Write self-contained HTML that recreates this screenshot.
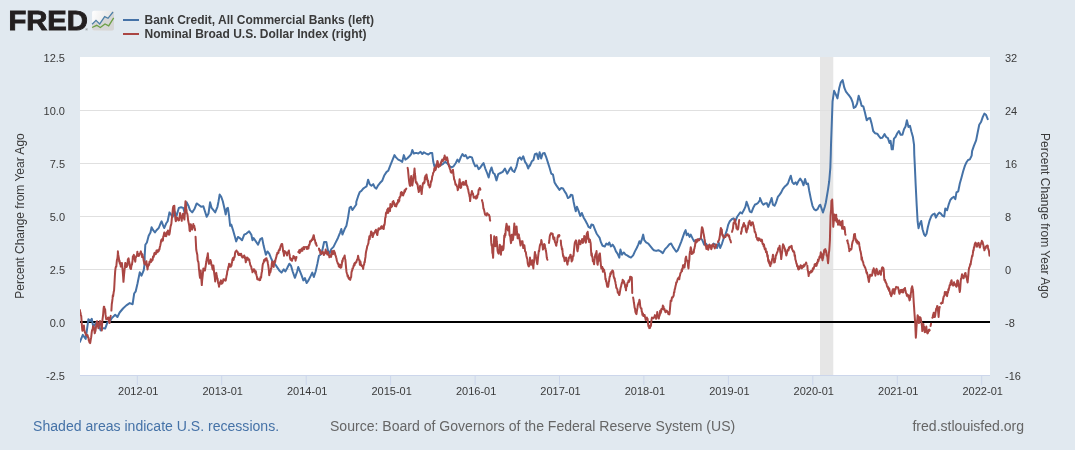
<!DOCTYPE html>
<html><head><meta charset="utf-8"><title>FRED Graph</title>
<style>html,body{margin:0;padding:0;background:#e1e9f0;}body{width:1075px;height:450px;position:relative;overflow:hidden;}</style></head>
<body>
<svg width="1075" height="450" viewBox="0 0 1075 450" style="position:absolute;left:0;top:0">
<defs><linearGradient id="ig" x1="0" y1="0" x2="1" y2="0.3"><stop offset="0" stop-color="#ffffff"/><stop offset="1" stop-color="#e2e2e2"/></linearGradient><clipPath id="cp"><rect x="80" y="57" width="910" height="318"/></clipPath></defs>
<rect x="0" y="0" width="1075" height="450" fill="#e1e9f0"/>
<rect x="80" y="57" width="910" height="318" fill="#ffffff"/>
<rect x="820" y="57" width="13.3" height="318" fill="#e6e6e6"/>
<rect x="80" y="110" width="910" height="1" fill="#e0e0e0"/>
<rect x="80" y="163" width="910" height="1" fill="#e0e0e0"/>
<rect x="80" y="216" width="910" height="1" fill="#e0e0e0"/>
<rect x="80" y="269" width="910" height="1" fill="#e0e0e0"/>
<rect x="80" y="375" width="910" height="1" fill="#ccd6eb"/>
<rect x="136.8" y="375" width="1" height="10" fill="#ccd6eb"/>
<rect x="221.2" y="375" width="1" height="10" fill="#ccd6eb"/>
<rect x="305.7" y="375" width="1" height="10" fill="#ccd6eb"/>
<rect x="390.1" y="375" width="1" height="10" fill="#ccd6eb"/>
<rect x="474.6" y="375" width="1" height="10" fill="#ccd6eb"/>
<rect x="559.0" y="375" width="1" height="10" fill="#ccd6eb"/>
<rect x="643.4" y="375" width="1" height="10" fill="#ccd6eb"/>
<rect x="727.9" y="375" width="1" height="10" fill="#ccd6eb"/>
<rect x="812.3" y="375" width="1" height="10" fill="#ccd6eb"/>
<rect x="896.8" y="375" width="1" height="10" fill="#ccd6eb"/>
<rect x="981.2" y="375" width="1" height="10" fill="#ccd6eb"/>
<rect x="80" y="321" width="910" height="2" fill="#000000"/>
<g clip-path="url(#cp)" fill="none" stroke-linejoin="round" stroke-linecap="round"><path d="M79.91 341.98 L82.81 334.84 L85.72 338.86 L88.4 319.21 L90.18 321 L91.74 318.76 L93.31 327.02 L96.21 322.56 L99.11 325.91 L100.67 330.37 L102.91 328.14 L105.14 328.59 L107.37 322.56 L109.6 321.89 L111.84 318.09 L115.19 314.74 L117.42 316.98 L119.65 312.51 L123 308.49 L126.35 305.37 L129.7 303.13 L132.6 304.25 L134.16 293.53 L135.73 291.3 L137.51 283.49 L139.74 272.33 L141.53 275.67 L143.76 270.09 L144.66 263.4 L144.66 255.91 L145.33 244.74 L146.89 242.51 L148.67 235.81 L150.46 232.47 L151.58 227.33 L153.14 230.23 L154.93 232.47 L156.49 230.23 L158.72 228 L160.51 223.53 L161.62 221.3 L163.19 225.77 L164.3 228 L166.09 223.53 L167.65 221.3 L169.44 212.37 L171 214.6 L172.79 216.84 L174.35 211.26 L176.58 215.72 L178.81 207.91 L181.05 207.24 L183.28 207.91 L184.84 213.49 L186.63 202.33 L188.41 205.67 L189.98 210.14 L192.21 212.37 L194.44 209.02 L196.67 203.44 L198.91 205 L201.14 206.79 L203.37 206.34 L204.93 211.26 L206.72 216.84 L208.51 213.49 L210.07 202.33 L211.63 207.91 L213.42 210.14 L215.2 212.37 L217.44 206.79 L218.55 201.21 L219.67 194.51 L221.23 196.74 L222.8 201.21 L224.58 209.02 L225.7 214.6 L226.81 208.58 L227.93 207.91 L229.05 215.72 L230.16 225.77 L231.28 224.65 L233.07 230.23 L234.63 235.81 L236.19 241.4 L237.98 236.93 L239.76 238.05 L242 240.28 L244.23 234.7 L246.46 233.58 L249.14 231.35 L251.37 234.7 L252.49 240.28 L253.6 238.05 L255.84 241.4 L258.07 244.74 L260.3 239.16 L262.09 238.05 L263.65 245.86 L265.88 254.79 L267.45 251.44 L269.23 253.67 L271.02 258.14 L272.58 261.49 L274.81 263.72 L277.05 267.07 L279.28 270.42 L281.51 272.65 L283.74 269.3 L285.31 271.53 L287.09 268.19 L289.33 263.72 L291.11 265.95 L292.67 271.53 L294.91 277.79 L297.14 271.53 L298.26 267.07 L300 271.44 L301.79 275.91 L303.35 280.37 L304.91 278.14 L306.7 283.05 L308.48 280.37 L310.72 275.91 L312.28 272.56 L313.84 277.02 L315.63 271.44 L317.41 263.63 L318.98 255.81 L320.54 254.7 L322.33 250.23 L324.11 241.97 L326.34 241.97 L327.91 250.23 L329.47 253.58 L331.26 249.12 L333.49 246.88 L335.72 242.42 L337.95 237.95 L340.19 232.37 L341.3 229.02 L342.42 234.6 L344.65 229.02 L346.44 225.67 L348 217.86 L349.56 207.81 L350.9 206.7 L352.47 210.05 L354.7 206.7 L356.26 204.47 L356.26 202.02 L358.05 196.44 L359.83 191.98 L361.4 190.86 L363.18 188.63 L364.74 187.51 L366.53 186.4 L368.09 179.7 L369.66 184.16 L371.44 185.73 L373.23 184.16 L374.79 187.51 L376.35 188.63 L378.14 185.28 L379.93 183.05 L382.16 180.81 L384.39 175.23 L386.62 171.88 L388.19 170.77 L390.42 165.19 L392.65 159.6 L394.44 155.14 L396 157.37 L398.23 159.6 L400.47 160.72 L402.25 161.84 L403.81 155.14 L405.38 159.6 L407.16 158.49 L409.4 156.26 L411.18 154.02 L412.3 150 L413.86 153.58 L416.09 152.91 L418.33 153.58 L420.56 151.79 L422.34 154.02 L423.91 152.24 L426.14 153.58 L428.37 154.47 L430.6 152.91 L432.17 152.91 L433.28 161.84 L434.4 166.3 L436.19 165.19 L438.42 166.3 L440.65 165.19 L442.88 164.07 L445.12 161.84 L447.35 163.4 L449.13 165.63 L451.37 167.42 L453.6 166.3 L455.83 162.95 L457.4 159.6 L458.96 161.84 L460.74 157.37 L462.53 154.02 L464.09 156.26 L465.66 155.14 L467.44 158.49 L469.67 156.7 L471.91 157.37 L473.69 162.95 L475.26 166.3 L476.82 165.19 L478.6 169.2 L480.39 167.42 L481.95 165.19 L483.52 162.95 L485.3 168.53 L487.09 173 L488.65 177.47 L490.21 170.77 L491.55 167.42 L493.12 173 L494.68 174.12 L496.47 180.37 L498.25 174.12 L500.48 173 L502.72 171.88 L504.95 168.53 L507.18 173.67 L509.41 169.65 L510.98 167.42 L512.54 170.77 L514.33 171.88 L516.56 166.3 L518.34 158.49 L519.91 157.37 L521.47 159.6 L523.26 156.26 L525.04 161.84 L526.6 164.07 L528.17 168.53 L529.51 165.19 L530 165.72 L531.79 161.26 L533.35 160.14 L534.91 154.11 L536.7 153.44 L538.26 159.02 L539.6 152.33 L541.16 158.58 L542.73 153.44 L544.51 153 L546.07 156.79 L547.86 162.37 L549.65 167.95 L551.21 173.53 L553 174.65 L554.56 182.47 L556.34 185.37 L557.91 187.6 L559.47 189.83 L561.26 188.05 L563.04 188.49 L564.6 191.4 L566.17 193.63 L567.95 198.09 L569.74 196.98 L570.86 194.74 L572.42 195.19 L573.53 201.44 L574.65 206.7 L575.77 211.16 L576.88 206.7 L578.67 211.16 L580.23 216.07 L581.8 212.95 L583.58 217.41 L585.37 220.54 L586.93 223.44 L588.49 226.79 L590.28 227.91 L591.4 224.56 L593.18 225 L594.74 229.02 L596.53 233.49 L598.09 235.72 L599.66 237.95 L601 242.42 L602.56 245.77 L604.79 246.44 L606.35 243.53 L608.14 244.65 L609.26 242.42 L610.82 246.44 L612.6 244.65 L614.39 247.33 L615.95 251.35 L617.52 253.58 L619.3 257.6 L620.42 249.56 L621.98 254.7 L623.77 252.47 L625.55 254.7 L627.12 255.37 L629.35 256.93 L630.91 257.6 L633.14 255.37 L634.93 251.35 L636.72 248 L638.28 244.65 L639.4 241.3 L640.51 243.53 L641.63 240.19 L643.19 234.6 L644.31 240.19 L646.09 242.42 L648.33 243.53 L650.11 245.77 L652.34 248.67 L653.91 250.23 L656.14 250.9 L658.37 250.23 L660.6 251.35 L662.84 253.13 L665.07 249.12 L667.3 246.88 L669.53 244.2 L671.1 243.53 L672.88 246.88 L674.67 249.56 L676.23 251.8 L677.8 250.23 L679.58 245.77 L681.37 241.3 L682.93 236.84 L684.49 232.37 L685.61 230.14 L686.73 235.27 L688.07 233.49 L689.63 236.84 L690.74 234.6 L692.53 238.4 L694.09 241.3 L695.66 240.19 L697.44 240.63 L699.23 239.07 L700.79 238.4 L702.35 240.19 L704.14 244.65 L705.93 243.53 L707.49 245.77 L709.72 247.33 L711.95 245.77 L713.52 243.53 L715.3 244.65 L717.09 248 L718.65 242.42 L720.21 248 L722 243.53 L723.79 237.95 L725.35 234.6 L726.91 230.14 L728.25 224.56 L729.81 221.21 L732.05 218.98 L733.61 218.31 L735.4 221.21 L737.18 216.74 L738.74 214.51 L740.31 212.28 L742.09 213.4 L743.88 210.05 L745.44 206.7 L746.56 201.79 L748.34 206.7 L749.91 211.61 L751.47 212.28 L753.26 207.81 L755.04 204.47 L756.6 204.02 L758.17 202.68 L759.95 200 L760 198 L761.79 202.47 L763.35 204.7 L764.91 203.58 L766.7 203.13 L768.26 206.93 L770.05 202.47 L771.61 198 L772.95 204.7 L774.51 205.81 L776.07 202.47 L777.86 196.88 L779.65 194.65 L781.21 192.42 L782.77 189.07 L784.56 186.84 L786.34 185.27 L787.91 183.49 L789.47 179.02 L790.81 175.67 L792.37 182.37 L793.93 183.93 L795.72 182.37 L796.84 184.6 L798.4 181.26 L800.19 178.58 L801.97 181.26 L803.53 185.27 L805.1 179.02 L806.44 183.93 L808 183.49 L809.12 190.19 L810.9 199.12 L812.47 205.81 L814.03 209.16 L815.81 210.28 L817.6 209.16 L819.16 205.81 L820.28 204.7 L821.4 208.05 L822.96 212.51 L824.74 206.93 L825.86 202.47 L826.98 195.77 L828.09 189.07 L829.21 181.26 L830.33 167.86 L830.77 154.47 L831 144.84 L831.89 120.28 L832.56 101.3 L834.12 90.81 L835.91 94.6 L837.47 98.4 L839.26 87.91 L840.82 82.33 L842.6 80.09 L844.39 87.91 L845.95 91.7 L847.74 93.93 L849.3 95.72 L851.09 98.4 L852.65 102.42 L853.77 108 L855.55 106.88 L857.12 103.53 L858.68 95.72 L860.47 101.3 L861.58 105.77 L863.37 106.44 L864.93 112.47 L866.72 120.28 L868.28 118.49 L870.07 118.05 L871.63 123.63 L873.19 131 L874.98 133.23 L877.21 133.67 L878.77 135.91 L880.56 138.14 L882.34 137.69 L884.58 134.12 L886.14 137.02 L887.93 138.14 L889.49 143.05 L890.6 140.82 L891.72 149.3 L892.84 149.3 L893.95 138.59 L895.52 137.02 L897.3 133.23 L898.87 131 L900.65 134.79 L902.44 134.79 L904 129.21 L905.56 126.53 L906.9 120.28 L908.47 126.98 L910.03 125.86 L911.37 131.44 L912.93 137.02 L914.05 144.84 L914.27 154.47 L914.72 163.4 L915.61 183.49 L916.73 205.81 L917.62 221.44 L918.51 228.14 L919.85 223.67 L921.19 221 L922.53 229.26 L924.09 234.39 L925.21 235.95 L926.55 233.72 L927.89 227.02 L929.67 220.33 L931.46 215.86 L933.02 214.3 L934.59 213.63 L935.93 217.65 L937.49 214.74 L939.27 212.51 L940.84 213.63 L942.62 215.86 L944.19 216.53 L945.3 208.49 L947.09 210.28 L948.65 204.7 L950.21 200.23 L952 198 L953.79 196.88 L955.35 199.12 L956.47 192.42 L958.25 191.3 L959.81 183.49 L961.38 177.91 L963.16 171.21 L964.95 165.63 L966.51 162.28 L968.07 160.05 L969.86 159.38 L971.65 155.58 L972.09 151.09 L973.88 145.95 L976.11 140.37 L977.67 132.56 L979.24 124.74 L981.02 122.07 L982.81 116.93 L984.37 113.58 L985.93 114.7 L987.72 119.16" stroke="#4572a7" stroke-width="2"/><path d="M79.91 310.05 L80.25 312.42 L80.58 313.43 L80.91 315.02 L81.25 316.14 L81.62 321.25 L82 326.91 L82.37 330.75 L82.68 330.63 L82.99 329.25 L83.31 328.72 L83.62 327.86 L83.93 325.52 L84.29 329.58 L84.65 331.05 L85 332.83 L85.36 332.64 L85.72 334.38 L86.03 334.93 L86.34 335.08 L86.66 335.56 L86.97 335.02 L87.28 335.31 L87.59 335.15 L87.9 336.9 L88.22 337.87 L88.53 337.81 L88.84 340.85 L89.18 340.92 L89.51 342.61 L89.84 342.09 L90.18 343.1 L90.49 341.23 L90.8 339.21 L91.12 337.64 L91.43 335.06 L91.74 332.2 L92.05 330.4 L92.37 329.46 L92.68 329.68 L93 326.52 L93.31 326.13 L93.67 327.86 L94.02 327.69 L94.38 330.64 L94.73 333.33 L95.09 331.91 L95.45 330.97 L95.81 328.71 L96.16 325.62 L96.52 324.34 L96.88 321.38 L97.19 321.24 L97.5 324.42 L97.82 325.39 L98.13 326.76 L98.44 328.32 L98.75 326.23 L99.06 324.9 L99.38 322.5 L99.69 323.11 L100 320.89 L100.36 322.6 L100.72 323.43 L101.07 325.26 L101.43 327.22 L101.79 330.42 L102.15 323.19 L102.51 319.46 L102.86 316.75 L103.22 313.59 L103.58 308.57 L103.89 306.79 L104.2 306.68 L104.52 309.71 L104.83 309.17 L105.14 309.27 L105.51 314.14 L105.89 317.22 L106.26 319.35 L106.62 318.99 L106.97 318.71 L107.33 319.31 L107.68 317.98 L108.04 317.45 L108.35 318.59 L108.66 317.8 L108.98 321.48 L109.29 322.3 L109.6 323.04 L109.97 318.55 L110.35 317.52 L110.72 315.86 M111.39 310.59 L111.76 304.26 L112.14 301.78 L112.51 298.92 L112.82 295.26 L113.13 296.33 L113.45 293.81 L113.76 291.62 L114.07 290.48 L114.44 284.07 L114.82 276.9 L115.19 271.12 L115.56 268.01 L115.93 266.74 L116.3 266.57 L116.61 263.2 L116.93 259.93 L117.24 259.11 L117.56 257.12 L117.87 252.95 L117.87 251.32 L118.2 254.39 L118.53 256.33 L118.87 258.15 L119.2 261.63 L119.51 260.56 L119.83 263.74 L120.14 262.58 L120.46 264.13 L120.77 266.52 L121.14 265.85 L121.51 264.49 L121.88 262.91 L122.18 265.7 L122.48 268.69 L122.78 272.05 L123.12 276.4 L123.45 281.83 L123.75 278.75 L124.04 274.88 L124.34 272.22 L124.64 269.06 L124.93 267.39 L125.23 262.89 L125.54 263.11 L125.86 264.05 L126.17 265.27 L126.49 267.01 L126.8 266.77 L127.16 265.63 L127.51 265.15 L127.87 259.4 L128.22 258.91 L128.58 258.36 L128.94 260.51 L129.3 262.37 L129.65 263.78 L130.01 266.77 L130.37 268.44 L130.68 267.05 L130.99 269.04 L131.31 266.5 L131.62 265.01 L131.93 264.75 L132.24 262.63 L132.55 260.76 L132.87 256.35 L133.18 256.36 L133.49 255.7 L133.85 254.85 L134.21 256.96 L134.56 259 L134.92 260.02 L135.28 261.71 L135.64 257.5 L136 257.37 L136.35 256.04 L136.71 255.57 L137.07 254.65 L137.38 251.7 L137.69 255.55 L138.01 253.71 L138.32 256.08 L138.63 254.57 L138.95 255.43 L139.27 255.71 L139.59 253.86 L139.9 253.53 L140.22 253.43 L140.54 252.21 L140.86 251.36 L141.18 253.62 L141.5 253.98 L141.82 253.57 L142.13 257.1 L142.45 254.39 L142.77 257.05 L143.09 256.78 L143.4 258.7 L143.72 260.78 L144.03 261.91 L144.35 263.85 L144.66 263.47 L145.02 263.03 L145.37 264.5 L145.73 262.63 L146.08 262.12 L146.44 261.28 L146.81 265.6 L147.19 267 L147.56 269.52 L147.88 266.39 L148.2 266.28 L148.52 264.29 L148.83 265.05 L149.15 264.83 L149.47 261.65 L149.79 262.89 L150.11 262.22 L150.43 261.01 L150.75 259.24 L151.06 262.12 L151.38 260.6 L151.7 259.99 L152.02 260.73 L152.34 259.78 L152.66 259.8 L152.98 256.58 L153.3 257.56 L153.62 256.92 L153.94 255.93 L154.26 253.51 L154.58 252.84 L154.9 254.27 L155.22 253.3 L155.53 253.15 L155.85 254.16 L156.17 252.48 L156.49 250.49 L156.81 251.89 L157.13 250.25 L157.45 252.34 L157.76 251.57 L158.08 250.42 L158.4 250.64 L158.72 251.08 L159.09 249.28 L159.47 249.29 L159.84 246.92 L160.21 245.68 L160.58 243.86 L160.95 241.73 L161.26 239.9 L161.58 241.52 L161.89 239.26 L162.21 240.2 L162.52 239.63 L162.88 240.58 L163.23 236.72 L163.59 236.03 L163.94 234.08 L164.3 232.44 L164.66 232.61 L165.02 234.02 L165.37 236.09 L165.73 235.18 L166.09 236.29 L166.4 235.82 L166.71 233.85 L167.03 232 L167.34 231.74 L167.65 232.32 L167.96 230.54 L168.27 232.15 L168.59 234.27 L168.9 234.74 L169.21 234.71 L169.57 233.64 L169.93 231.28 L170.28 228.28 L170.64 226.15 L171 225.19 L171.37 223.62 L171.75 219.31 L172.12 216.03 L172.49 212.8 L172.86 208.76 L173.23 206.68 L173.6 206.1 L173.98 207.86 L174.35 205.79 L174.72 212.67 L175.1 216.26 L175.47 219.55 L175.83 221.28 L176.18 219.71 L176.54 217.28 L176.89 217.83 L177.25 218.21 L177.56 217.99 L177.87 219.55 L178.19 219.97 L178.5 220.34 L178.81 220.48 L179.12 220.05 L179.44 218.1 L179.75 216.58 L180.07 212.95 L180.38 214.3 L180.72 216.06 L181.05 216.01 L181.38 217.25 L181.72 220.82 L182.03 216.37 L182.34 217.26 L182.66 217.9 L182.97 213.77 L183.28 214.11 L183.65 217.05 L184.03 217.1 L184.4 219.58 L184.77 213.93 L185.14 206.35 L185.51 201.13 L185.88 204.82 L186.26 208.65 L186.63 211.23 L187 212.94 L187.37 214.07 L187.74 216.52 L188.11 220.25 L188.49 222.14 L188.86 223.88 L189.23 225.75 L189.61 230.77 L189.98 231.26 L190.35 228.94 L190.72 224.18 L191.09 225.21 L191.46 226.57 L191.84 229.15 L192.21 229.5 L192.58 227.94 L192.96 227.36 L193.33 224.02 L193.64 226.92 L193.95 226.51 L194.27 225.8 L194.58 227.85 L194.89 228.51 L195.11 230.23 M195.56 236.79 L195.89 243.03 L196.23 249.47 L196.6 251.61 L196.97 253.32 L197.34 255.03 L197.65 260.05 L197.97 261.31 L198.28 261.53 L198.6 263.63 L198.91 268.6 L199.28 271.31 L199.65 275.41 L200.02 277.85 L200.02 277.13 L200.36 275.35 L200.69 270.39 L201.06 275.75 L201.44 280.46 L201.81 285.07 L202.12 280.6 L202.43 277.79 L202.75 274.97 L203.06 271.55 L203.37 268.43 L203.68 268.72 L203.99 268.91 L204.31 270.58 L204.62 270.58 L204.93 270.47 L205.29 268.19 L205.65 266.3 L206 263.74 L206.36 261.53 L206.72 258.93 L207.09 257.6 L207.47 255.84 L207.84 253.34 L208.21 257.83 L208.58 261.37 L208.95 263.79 L209.31 262.78 L209.67 262.91 L210.02 261.19 L210.38 259.9 L210.74 261.21 L211.05 261.89 L211.36 264.95 L211.68 264.88 L211.99 265.05 L212.3 268.04 L212.67 269.65 L213.05 267.14 L213.42 265.51 L213.78 268.73 L214.13 272.57 L214.49 275.23 L214.84 277.62 L215.2 281.48 L215.57 278.17 L215.95 274.91 L216.32 272.87 L216.63 275.61 L216.94 276.78 L217.26 278.61 L217.57 278.5 L217.88 281.13 L218.25 283.4 L218.63 283.97 L219 286.68 L219.31 285.14 L219.62 284.31 L219.94 282.18 L220.25 283.55 L220.56 281.26 L220.92 280.39 L221.28 281.11 L221.63 283.81 L221.99 281.62 L222.35 283.16 L222.71 282.58 L223.06 281.04 L223.42 279.31 L223.77 279.86 L224.13 279.34 L224.44 280.26 L224.76 280.17 L225.07 279.71 L225.39 280.68 L225.7 280.63 L226.01 278.76 L226.32 277.07 L226.64 275.23 L226.95 274.51 L227.26 271.38 L227.62 270.42 L227.98 269.65 L228.33 266.99 L228.69 266.58 L229.05 263.82 L229.41 265.24 L229.76 266.59 L230.12 266.81 L230.47 266.47 L230.83 266.53 L231.14 264.13 L231.46 265.71 L231.77 263.19 L232.09 262.37 L232.4 259.26 L232.71 259.66 L233.02 257.96 L233.34 260.08 L233.65 260 L233.96 257.22 L234.32 257.54 L234.67 256.82 L235.03 253.32 L235.38 251.93 L235.74 251.27 L236.1 251.44 L236.46 250.52 L236.81 251.59 L237.17 251.57 L237.53 251.69 L237.84 252.64 L238.15 254.26 L238.47 254.84 L238.78 253.51 L239.09 255.13 L239.4 254.4 L239.72 254.17 L240.03 254.84 L240.35 254.7 L240.66 254.91 L241.02 253.71 L241.37 254.69 L241.73 256.45 L242.08 256.96 L242.44 257.53 L242.8 257.31 L243.16 256.23 L243.51 257.1 L243.87 256.34 L244.23 255.5 L244.54 256.32 L244.85 258.1 L245.17 257.15 L245.48 260.06 L245.79 262.31 L246.1 260.03 L246.41 260.67 L246.73 259.73 L247.04 257.46 L247.35 257.58 L247.71 257.98 L248.07 259.12 L248.42 259.7 L248.78 259.57 L249.14 259.28 L249.5 261.26 L249.86 262.67 L250.21 264.73 L250.57 265.67 L250.93 266.09 L251.24 266.64 L251.55 268.64 L251.87 269.43 L252.18 270.21 L252.49 272.23 L252.8 271.22 L253.11 271.08 L253.43 270.79 L253.74 269.28 L254.05 271.07 L254.41 269.58 L254.77 271.76 L255.12 271.77 L255.48 273.55 L255.84 271.3 L256.2 273.66 L256.55 275.45 L256.91 276.66 L257.26 279.12 L257.62 278.2 L257.94 279.38 L258.26 279.24 L258.58 279.72 L258.9 279.64 L259.22 279.36 L259.54 280.28 L259.86 279.17 L260.17 280.09 L260.48 276.99 L260.8 277.02 L261.11 277.58 L261.42 274.36 L261.73 272.35 L262.04 271.14 L262.36 267.89 L262.67 264.91 L262.98 263.63 L263.34 263.03 L263.7 262.25 L264.05 260.02 L264.41 261.4 L264.77 260.43 L265.13 258.95 L265.48 259.17 L265.84 258.54 L266.19 260.2 L266.55 258.3 L266.86 260.43 L267.18 260.29 L267.49 260.99 L267.81 263.15 L268.12 264.6 L268.49 267.11 L268.86 270.23 L269.23 275.29 L269.59 273.4 L269.95 272.61 L270.3 272.58 L270.66 271.11 L271.02 268.51 L271.39 268.43 L271.76 263.77 L272.13 261.87 L272.44 261.47 L272.76 262.91 L273.07 262.27 L273.39 266.34 L273.7 266.86 L274.06 263.42 L274.41 262.04 L274.77 260.82 L275.12 262.22 L275.48 259.64 L275.79 258.88 L276.11 257.54 L276.42 256.59 L276.74 254.61 L277.05 254.49 L277.36 252.73 L277.67 253.51 L277.99 253.4 L278.3 253.1 L278.61 252.02 L278.61 250.63 L278.97 250.69 L279.33 249.22 L279.68 250.17 L280.04 248.56 L280.4 246.88 L280.76 245.89 L281.11 245.01 L281.47 244.13 L281.82 243.98 L282.18 243.9 L282.49 246.1 L282.8 248.16 L283.12 251.54 L283.43 251.03 L283.74 253.68 L284.05 255.74 L284.37 251.1 L284.68 251.86 L285 252.04 L285.31 251.58 L285.67 252.48 L286.02 252.57 L286.38 253.78 L286.73 254.17 L287.09 255.48 L287.45 252.42 L287.81 252.65 L288.16 252.78 L288.52 251.18 L288.88 250.5 L289.19 253.57 L289.5 253.98 L289.82 256.7 L290.13 258.37 L290.44 259.54 L290.75 259.94 L291.06 259.61 L291.38 258.66 L291.69 260.12 L292 260.78 L292.36 259 L292.72 258.5 L293.07 258.37 L293.43 256.01 L293.79 256.49 L294.15 258.26 L294.51 256.75 L294.86 258.05 L295.22 258.45 L295.58 260.65 L295.88 258.8 L296.17 258.57 L296.47 257.02 M298.26 251.94 L298.58 252.32 L298.9 252.11 L299.22 250.29 L299.53 252.97 L299.85 252.26 L300.17 249.65 L300.49 251.67 L300.81 250.63 L301.13 250.89 L301.45 250.56 L301.76 248.63 L302.08 249.53 L302.4 250.81 L302.72 248.69 L303.04 247.97 L303.36 247.35 L303.68 247.16 L303.99 248.24 L304.31 249.14 L304.63 247.69 L304.95 246.98 M306.7 247.1 L307.06 249.11 L307.41 246.86 L307.77 246.95 L308.12 248.25 L308.48 248.49 L308.79 245.97 L309.11 244.72 L309.42 244.91 L309.74 243.76 L310.05 241.24 L310.37 241.76 L310.69 240.97 L311.01 241.4 L311.32 240.4 L311.64 239.95 L311.96 239.23 L312.28 240.02 L312.59 239.56 L312.9 237.22 L313.22 237.55 L313.53 235.35 L313.84 235.33 L314.2 237.6 L314.56 239.94 L314.91 239.88 L315.27 241.81 L315.63 243.71 L316 242.93 L316.37 245.04 L316.74 245.77 M318.98 248.51 L319.29 250.35 L319.6 249.89 L319.92 250.02 L320.23 252.72 L320.54 253.81 L320.9 252.86 L321.26 253.94 L321.61 252.67 L321.97 252.15 L322.33 252.9 L322.69 251.5 L323.04 252.75 L323.4 253.79 L323.75 255.02 L324.11 254.55 L324.42 254.08 L324.73 252.32 L325.05 252.29 L325.36 252.62 L325.67 249.61 L325.98 253.03 L326.3 250.99 L326.61 252.26 L326.93 253.07 L327.24 254.5 L327.6 252.69 L327.95 252.14 L328.31 254.8 L328.66 255.19 L329.02 255.26 L329.38 257.29 L329.74 255.33 L330.09 255.59 L330.45 256.42 L330.81 256.14 L331.12 256.86 L331.43 253.8 L331.75 254.13 L332.06 250.93 L332.37 254.31 L332.68 252.71 L332.99 253.34 L333.31 253.91 L333.62 251.43 L333.93 250.67 L334.29 251.43 L334.65 252.11 L335 253.28 L335.36 255.4 L335.72 255.84 L336.08 257.21 L336.44 258.33 L336.79 260.65 L337.15 261.61 L337.51 262.38 L337.82 263.78 L338.13 263.71 L338.45 263.48 L338.76 266.5 L339.07 266.28 L339.39 265.09 L339.71 267.02 L340.03 266.46 L340.34 264.83 L340.66 267.79 L340.98 266.73 L341.3 267.33 L341.61 265.23 L341.93 263.45 L342.24 260.71 L342.56 261.51 L342.87 259.19 L343.23 258.23 L343.58 258.14 L343.94 257.22 L344.29 257.09 L344.65 255.48 L345.02 258.75 L345.4 259.84 L345.77 264.36 L346.14 268.32 L346.51 271.9 L346.88 273.34 L347.24 274.23 L347.6 276.44 L347.95 275.39 L348.31 277.01 L348.67 278.53 L348.98 277.64 L349.29 279.29 L349.61 278.13 L349.92 279.53 L350.23 279.86 L350.54 278.34 L350.86 277.55 L351.17 276.99 L351.49 272.54 L351.8 270.92 L352.16 270.77 L352.51 268.26 L352.87 268.54 L353.22 267.49 L353.58 265.61 L353.94 265.89 L354.3 263.57 L354.65 265.21 L355.01 262.69 L355.37 263 L355.68 262.46 L355.99 261.93 L356.31 262.39 L356.62 261.02 L356.93 259.92 L357.3 259.28 L357.68 258.72 L358.05 255.82 L358.41 257.48 L358.76 259.61 L359.12 260.07 L359.47 260.01 L359.83 264.75 L360.14 264.94 L360.46 261.62 L360.77 263.81 L361.09 264.67 L361.4 265.61 L361.76 266.01 L362.11 265.84 L362.47 265.8 L362.82 267.51 L363.18 269.02 L363.49 265.99 L363.8 264.93 L364.12 264.72 L364.43 261.88 L364.74 262.28 L365.11 259.14 L365.49 256.96 L365.86 252.95 L366.17 251.22 L366.48 250.1 L366.8 248.85 L367.11 246.73 L367.42 245.78 L367.75 245.05 L368.09 244.05 L368.43 243.12 L368.76 239.48 L369.07 238.92 L369.39 236.17 L369.7 239.22 L370.02 235.96 L370.33 235.69 L370.7 234.7 L371.07 231.52 L371.44 231.68 L371.81 233.1 L372.19 233.34 L372.56 237.1 L372.87 237.02 L373.18 233.37 L373.5 234.88 L373.81 233.45 L374.12 232.8 L374.48 232.32 L374.84 232.65 L375.19 230.83 L375.55 231.37 L375.91 229.77 L376.28 232.28 L376.65 232.38 L377.02 234.5 L377.33 235.04 L377.65 232.77 L377.96 231.11 L378.28 229.11 L378.59 228.31 L378.95 228.97 L379.3 229.42 L379.66 228.74 L380.01 228.6 L380.37 227.87 L380.73 228.81 L381.09 226.73 L381.44 226.2 L381.8 227.9 L382.16 226.43 L382.47 226.4 L382.78 226.43 L383.1 227.32 L383.41 229 L383.72 229.08 L384.09 224.8 L384.47 225.01 L384.84 222.58 L385.21 217.95 L385.58 217.46 L385.95 213.01 L386.26 212.26 L386.58 213.17 L386.89 213.24 L387.21 209.76 L387.52 210.66 L387.88 208.6 L388.23 212.84 L388.59 208.69 L388.94 210.83 L389.3 208.02 L389.66 209.62 L390.02 211.14 L390.37 204.03 L390.73 206.54 L391.09 207.4 L391.4 205.9 L391.71 204.42 L392.03 206.63 L392.34 204.09 L392.65 201.87 L393.02 203.75 L393.4 201.05 L393.77 203.27 L394.13 202.6 L394.48 204.15 L394.84 206.05 L395.19 205.91 L395.55 205.45 L395.86 204.5 L396.18 206.42 L396.49 205.36 L396.81 203.29 L397.12 204.12 L397.44 203.32 L397.76 202.98 L398.08 199.88 L398.39 201.16 L398.71 201.77 L399.03 201.14 L399.35 200.79 L399.35 197.58 L399.72 198.08 L400.1 196.51 L400.47 196.51 L400.84 192.61 L401.21 192.43 L401.58 192.01 L401.89 193.45 L402.2 192.92 L402.52 195.02 L402.83 193.95 L403.14 195.57 L403.5 193.96 L403.86 193.68 L404.21 192.03 L404.57 190.32 L404.93 191.84 L405.26 190.58 L405.6 189.24 L405.94 189.37 L406.27 188.63 M407.61 167.86 L407.98 169.59 L408.36 173.87 L408.73 177.96 L409.1 181.29 L409.47 183.86 L409.84 185.61 L410.17 185.84 L410.51 182.23 L410.85 179.15 L411.18 176.1 L411.55 179.94 L411.93 182.67 L412.3 185.48 L412.67 183.13 L413.04 180.65 L413.41 178.03 L413.78 174.56 L414.16 173.2 L414.53 168.47 L414.9 173.96 L415.28 176.18 L415.65 181.13 L415.96 182.72 L416.27 182.33 L416.59 182.16 L416.9 183.53 L417.21 184.29 L417.52 184.16 L417.83 186.74 L418.15 189 L418.46 189.99 L418.77 192.05 L419.11 190.97 L419.44 189.32 L419.77 187.77 L420.11 185.81 L420.42 186.81 L420.73 188.84 L421.05 190.39 L421.36 192.14 L421.67 194.05 L422.04 189.31 L422.42 187.21 L422.79 184.14 L423.16 182.91 L423.54 183.4 L423.91 183.51 L424.22 181.79 L424.53 182.69 L424.85 177.36 L425.16 178.4 L425.47 175.83 L425.81 178.07 L426.14 179.3 L426.48 174.38 L426.81 176.47 L427.12 178.38 L427.43 179.2 L427.75 181.53 L428.06 180.58 L428.37 184.93 L428.68 185.16 L428.99 185.52 L429.31 185.64 L429.62 187.41 L429.93 187.07 L430.26 186.32 L430.6 184.26 L430.94 181.3 L431.27 181.9 L431.58 180.55 L431.9 179.48 L432.21 176.46 L432.53 175.65 L432.84 174.68 L433.21 172.76 L433.58 172.26 L433.95 171.44 L434.31 168.61 L434.67 167.47 L435.02 169.75 L435.38 170.13 L435.74 169.36 L436.05 167.92 L436.36 165.3 L436.68 163.87 L436.99 163.98 L437.3 161.02 L437.61 161.1 L437.93 162.73 L438.24 166.76 L438.56 167.14 L438.87 165.68 L439.23 165.2 L439.58 165.62 L439.94 164.29 L440.29 165.7 L440.65 164 L440.96 162.2 L441.27 163.46 L441.59 160.86 L441.9 160.69 L442.21 159.59 L442.54 159.88 L442.88 161.01 L443.22 160.66 L443.55 160.18 L443.92 157.99 L444.3 156.98 L444.67 155.58 L444.98 157.13 L445.29 158.09 L445.61 159.44 L445.92 159.94 L446.23 160.01 L446.6 159.34 L446.98 157.33 L447.35 158.34 L447.72 160.79 L448.1 162.69 L448.47 163.96 L448.78 164.81 L449.09 166.7 L449.41 166.76 L449.72 168.3 L450.03 169.05 L450.37 169.84 L450.7 171.94 L451.03 171.37 L451.37 172.68 L451.68 171.6 L451.99 170.94 L452.31 172.39 L452.62 171.9 L452.93 169.67 L453.24 172.39 L453.55 175.17 L453.87 177.07 L454.18 179.66 L454.49 179.67 L454.85 181.13 L455.21 183.01 L455.56 184.78 L455.92 184.48 L456.28 184.51 L456.64 185.85 L457 186.47 L457.35 187.18 L457.71 190.2 L458.07 189.18 L458.38 187.75 L458.69 187.67 L459.01 184.78 L459.32 182.01 L459.63 179.15 L460 182.67 L460.37 186.37 L460.74 188.07 L461.1 187.53 L461.46 185.37 L461.81 184.63 L462.17 182.87 L462.53 182.31 L462.84 183.77 L463.15 181.98 L463.47 183.88 L463.78 184.83 L464.09 184.77 L464.4 184.11 L464.72 184.2 L465.03 184.4 L465.35 182.27 L465.66 181.1 L466.02 180.75 L466.37 185.22 L466.73 184.9 L467.08 186.14 L467.44 186.5 L467.8 188.8 L468.16 189.2 L468.51 191.59 L468.87 193.29 L469.23 194.24 L469.53 196.32 L469.82 197.16 L470.12 201.08 L470.48 197.64 L470.84 195.03 L471.19 194.94 L471.55 192.85 L471.91 191.07 L472.27 192.55 L472.62 194.03 L472.98 193.59 L473.33 195.42 L473.69 197.72 L474 197.28 L474.32 196.75 L474.63 197.23 L474.95 197.23 L475.26 197.52 L475.57 198.44 L475.88 197.92 L476.2 196.06 L476.51 198.43 L476.82 197.87 L477.18 197.69 L477.53 195 L477.89 194.12 L478.24 194.38 L478.6 189.92 L478.96 189.62 L479.32 189.14 L479.67 188.03 L480.03 188.27 L480.39 189.74 M481.95 200.12 L482.32 201.45 L482.7 202.58 L483.07 205.16 L483.44 208.53 L483.82 208.77 L484.19 210.62 L484.5 211.92 L484.81 213.51 L485.13 214.71 L485.44 214.56 L485.75 214.43 L486.11 214.24 L486.46 215.48 L486.82 214.92 L487.17 213.13 L487.53 213.6 L487.89 214.12 L488.25 214.57 L488.6 214.74 L488.96 214.67 L489.32 216.05 L489.62 216.26 L489.91 219.86 L490.21 220.68 L490.21 220.54 M490.88 235.03 L491.25 242.65 L491.63 245.62 L492 245.14 L492.37 253 L492.75 253.68 L493.12 257.8 L493.49 246.53 L493.86 242.84 L494.23 236.35 L494.6 239 L494.98 241.93 L495.35 246.23 L495.72 240.55 L496.1 239.07 L496.47 236.98 L496.84 241.95 L497.21 245.6 L497.58 250.78 L497.95 252.12 L498.33 253.26 L498.7 253.69 L499.07 250.31 L499.44 248.68 L499.81 244.68 L500.18 246.66 L500.56 249.01 L500.93 254.8 L501.3 248.97 L501.68 248.23 L502.05 246.38 L502.42 246.49 L502.79 250.35 L503.16 249.68 L503.53 248.4 L503.91 242.72 L504.28 235.57 L504.65 237.47 L505.03 233.64 L505.4 235.41 L505.77 229.12 L506.14 226.54 L506.51 223.86 L506.88 225.17 L507.26 228.3 L507.63 229.31 L508 230.4 L508.37 228.66 L508.74 228.23 L509.11 226.38 L509.49 234.86 L509.86 235.77 L510.23 235.28 L510.61 240.33 L510.98 243.12 L511.35 241.05 L511.72 234.84 L512.09 235.81 L512.46 234.74 L512.84 240.06 L513.21 237.82 L513.58 234.1 L513.96 228.69 L514.33 223.56 L514.7 228.52 L515.07 231.33 L515.44 234.87 L515.81 232.4 L516.19 229.25 L516.56 226.41 L516.93 231.04 L517.3 234.74 L517.67 238.34 L518.04 238.1 L518.42 236.39 L518.79 234.36 L519.15 236.77 L519.51 238.49 L519.86 240.82 L520.22 243.32 L520.58 245.51 L520.89 243.14 L521.2 241.51 L521.52 243.26 L521.83 241.19 L522.14 241.19 L522.51 241.31 L522.89 245.1 L523.26 248.02 L523.63 245.59 L524 245.3 L524.37 245.3 L524.74 248.23 L525.12 251.3 L525.49 251.69 L525.86 252.32 L526.23 255.17 L526.6 256.66 L526.97 258.22 L527.35 259.11 L527.72 263.21 L528.09 264.71 L528.47 265.99 L528.84 266.54 L529.21 265.39 L529.58 263.97 L529.95 260.9 L530 257.5 L530.37 261.32 L530.75 263.31 L531.12 264.75 L531.49 264.05 L531.86 261.24 L532.23 260.21 L532.6 262.24 L532.98 265.26 L533.35 268.42 L533.66 263.63 L533.97 262.58 L534.29 258.98 L534.6 255.19 L534.91 251.88 L535.25 254.62 L535.58 254.54 L535.91 256.27 L536.25 257.09 L536.62 260.34 L537 262.98 L537.37 264.11 L537.74 260.66 L538.11 256.75 L538.48 253.73 L538.79 250.74 L539.11 251.4 L539.42 248.53 L539.74 246.34 L540.05 245.09 L540.36 243.91 L540.67 244.31 L540.99 243.37 L541.3 240.08 L541.61 241.02 L541.95 243.5 L542.28 244.69 L542.62 246.38 L542.95 249.56 L543.26 248.54 L543.57 248.31 L543.89 246.56 L544.2 243.94 L544.51 244.86 L544.82 244.83 L545.13 248.59 L545.45 248.26 L545.76 250.28 L546.07 251.7 L546.4 253.82 L546.74 257.32 L547.08 258.76 L547.41 259.83 M548.98 242.96 L549.35 240.47 L549.72 236.56 L550.09 235.25 L550.46 234.48 L550.84 233.35 L551.21 233.95 L551.58 233.19 L551.96 233.59 L552.33 233.66 L552.7 233.86 L553.07 237.37 L553.44 239.15 L553.75 238.78 L554.06 238.41 L554.38 237.53 L554.69 240.79 L555 242.39 L555.34 242.41 L555.67 243.81 L556 245.14 L556.34 245.66 L556.65 242.69 L556.97 242.47 L557.28 240.66 L557.6 237.02 L557.91 236.48 L558.22 235.33 L558.53 236.29 L558.85 236.69 L559.16 234.98 L559.47 235.72 M560.81 240.57 L561.18 245.45 L561.56 246.48 L561.93 249.32 L562.3 248.67 L562.67 252.67 L563.04 255.45 L563.35 256.73 L563.66 256.07 L563.98 257.84 L564.29 258.8 L564.6 261.18 L564.91 260.77 L565.23 259.47 L565.54 257.72 L565.86 259.16 L566.17 257.63 L566.5 260.01 L566.84 261.08 L567.17 263.7 L567.51 264.65 L567.82 261.88 L568.13 261.26 L568.45 261.2 L568.76 257.79 L569.07 257.32 L569.38 257.78 L569.69 257.61 L570.01 256.72 L570.32 254.85 L570.63 254.68 L570.97 257.15 L571.3 258.39 L571.63 261.46 L571.97 259.5 L572.28 260.41 L572.59 259.19 L572.91 256.09 L573.22 255.97 L573.53 255.96 L573.9 251.27 L574.28 247.48 L574.65 243.95 L574.96 242.13 L575.27 242.61 L575.59 240.95 L575.9 240.37 L576.21 240.67 L576.55 242.46 L576.88 246.03 L577.21 250 L577.55 251.37 L577.86 249.21 L578.18 247.99 L578.49 244.99 L578.81 244.28 L579.12 240.15 L579.49 242.6 L579.86 242.33 L580.23 242.81 L580.54 244.23 L580.86 240.98 L581.17 242.44 L581.49 240.55 L581.8 240.38 L582.13 239.03 L582.46 241.82 L582.8 242.89 L583.13 242.32 L583.5 240.07 L583.88 240.16 L584.25 235.88 L584.56 236.68 L584.87 237.83 L585.19 240.32 L585.5 241.51 L585.81 242.65 L586.18 241.31 L586.56 235.29 L586.93 232.99 L587.3 234.64 L587.68 231.81 L588.05 234.84 L588.42 239.22 L588.79 238.42 L589.16 242.1 L589.53 241.44 L589.91 239.64 L590.28 241.89 L590.65 242.98 L591.03 250.14 L591.4 255.47 L591.77 253.34 L592.14 256.89 L592.51 256.67 L592.82 261.07 L593.13 259.99 L593.45 261.5 L593.76 262.81 L594.07 264.34 L594.44 260.57 L594.82 258.44 L595.19 255.1 L595.53 255.4 L595.86 253.17 L596.19 254.22 L596.53 251.07 L596.9 256.66 L597.28 263.51 L597.65 264.84 L598.02 261.24 L598.39 261.35 L598.76 257.9 L599.13 254.78 L599.51 253.74 L599.88 253.43 L600.25 257.65 L600.63 262.06 L601 266.15 L601 265.73 L601.31 268.45 L601.62 267.99 L601.94 267.45 L602.25 266.94 L602.56 268.15 L602.87 271.74 L603.18 268.61 L603.5 269.71 L603.81 270.11 L604.12 269.91 L604.46 271.75 L604.79 272.72 L605.12 274.96 L605.46 279.38 L605.77 278.74 L606.08 281.74 L606.4 281.02 L606.71 283.86 L607.02 285.9 L607.39 286.83 L607.77 285.11 L608.14 286.88 L608.45 284.9 L608.76 282.1 L609.08 281.41 L609.39 278.39 L609.7 276.69 L610.04 276.5 L610.37 273.18 L610.7 274.63 L611.04 272.94 L611.35 271.77 L611.66 271.94 L611.98 272.25 L612.29 270.44 L612.6 271.19 L612.97 270.87 L613.35 272.59 L613.72 277.03 L614.03 277.1 L614.34 278.71 L614.66 278.23 L614.97 280.82 L615.28 281.44 L615.62 283.64 L615.95 284.92 L616.28 287.82 L616.62 288 L616.99 288.75 L617.37 289.33 L617.74 292.74 L618.05 291.93 L618.36 292.55 L618.68 293.54 L618.99 294.88 L619.3 295.03 L619.67 293.68 L620.05 291.14 L620.42 288.97 L620.73 287.18 L621.04 286.65 L621.36 284.77 L621.67 283.86 L621.98 282.55 L622.32 282.36 L622.65 279.8 L622.99 281.01 L623.32 280.49 L623.63 282.66 L623.94 281.31 L624.26 282.84 L624.57 283.98 L624.88 284.7 L625.25 287.38 L625.63 287.58 L626 290.34 L626.31 286.72 L626.62 284.98 L626.94 286.28 L627.25 284.15 L627.56 282.77 L627.89 282.16 L628.23 282.21 L628.56 280.4 L628.9 282.06 L629.21 280.06 L629.53 280.76 L629.84 279.28 L630.16 276.75 L630.47 276.7 L630.8 278.76 L631.13 277.51 L631.47 277.17 L631.8 277.63 L632.25 293.04 M633.14 297.57 L633.51 299.69 L633.89 302.51 L634.26 304.78 L634.63 307.88 L635.01 308.41 L635.38 311.92 L635.75 312.82 L636.12 313.71 L636.49 314.09 L636.83 311.41 L637.16 309.57 L637.5 307.48 L637.83 305.11 L638.14 304.59 L638.46 302.96 L638.77 303.9 L639.09 301.79 L639.4 299.79 L639.77 301.07 L640.14 305.35 L640.51 307.63 L640.82 307.78 L641.13 308.5 L641.45 308.25 L641.76 311.55 L642.07 311.74 L642.4 314.85 L642.74 313.22 L643.08 313.84 L643.41 316 L643.72 315.04 L644.04 315.29 L644.35 315.03 L644.67 315.04 L644.98 317.16 L645.35 318.05 L645.72 320.03 L646.09 319.52 L646.46 319.11 L646.84 317.55 L647.21 318.47 L647.58 318.73 L647.96 322.87 L648.33 325.73 L648.64 326.81 L648.95 325.5 L649.27 328.13 L649.58 327.31 L649.89 328.08 L650.26 325.86 L650.63 326.38 L651 325.11 L651.34 321.14 L651.67 319.04 L652 317.46 L652.34 318.07 L652.71 318.05 L653.09 318 L653.46 318.22 L653.83 317.51 L654.21 317.48 L654.58 316.38 L654.89 315.13 L655.2 315.42 L655.52 316.25 L655.83 315.68 L656.14 318.87 L656.51 315.58 L656.89 316.03 L657.26 312.04 L657.57 313.42 L657.88 315.8 L658.2 315.84 L658.51 318.21 L658.82 318.5 L659.15 315.93 L659.49 316.04 L659.83 314.73 L660.16 310.75 L660.47 313.67 L660.78 312.02 L661.1 311.81 L661.41 309 L661.72 309.58 L662.09 308.8 L662.47 308.97 L662.84 305.57 L663.15 306.75 L663.46 306.39 L663.78 308.67 L664.09 309.87 L664.4 308.71 L664.76 309.92 L665.12 311.14 L665.47 312.33 L665.83 311.72 L666.19 311.08 L666.55 310.51 L666.9 310.96 L667.26 311.42 L667.61 312.38 L667.97 312.43 L668.28 314.1 L668.59 312.99 L668.91 311.9 L669.22 314.39 L669.53 313.98 L669.9 309.65 L670.28 305.34 L670.65 300.74 L671.02 300.38 L671.4 301.01 L671.77 298.35 L672.08 297.21 L672.39 297.91 L672.71 297.28 L673.02 296.94 L673.33 296.31 L673.66 295.59 L674 292.17 L674.34 292.42 L674.67 289.25 L674.98 289.2 L675.29 287.18 L675.61 285.67 L675.92 284.76 L676.23 282.31 L676.6 282.58 L676.98 281.62 L677.35 280.21 L677.66 279.04 L677.97 278.34 L678.29 278.01 L678.6 277.76 L678.91 277.39 L679.27 279.29 L679.63 276.38 L679.98 275.7 L680.34 273.43 L680.7 272.76 L681.01 272.22 L681.32 271.78 L681.64 269.79 L681.95 271.27 L682.26 268.42 L682.62 269.1 L682.98 265.22 L683.33 266.51 L683.69 265.96 L684.05 265.08 L684.49 267.52 L684.83 265 L685.16 262.66 L685.5 258.58 L685.83 257.41 L686.14 256.61 L686.46 259.96 L686.77 260.34 L687.09 260.55 L687.4 260.66 L687.77 262.74 L688.14 266.78 L688.51 268.54 L688.88 263.2 L689.26 260.69 L689.63 254.38 L690 251.47 L690.37 250.17 L690.74 247.21 L691.1 248.61 L691.46 250.4 L691.81 254.07 L692.17 251.87 L692.53 253.62 L692.84 253.16 L693.15 252.21 L693.47 252.41 L693.78 252.5 L694.09 249.11 L694.4 248.81 L694.72 246.87 L695.03 245.86 L695.35 242.6 L695.66 240.84 L696.02 240.11 L696.37 242.44 L696.73 241.92 L697.08 241.59 L697.44 239.17 L697.8 240.74 L698.16 240.18 L698.51 239.36 L698.87 239.59 L699.23 240.19 M700.79 238.58 L701.16 234.72 L701.54 230.49 L701.91 227.25 L702.28 227.36 L702.65 229.09 L703.02 230.18 L703.39 232.87 L703.77 234.54 L704.14 236.71 L704.51 238.95 L704.89 240.72 L705.26 245.54 L705.63 245.11 L706 246.15 L706.37 248.94 L706.73 248.37 L707.09 245.93 L707.44 248.18 L707.8 248.53 L708.16 249.7 L708.47 248.51 L708.78 247.35 L709.1 244.93 L709.41 244.54 L709.72 244.89 L710.03 246 L710.34 245.52 L710.66 246.99 L710.97 247.87 L711.28 249.17 L711.64 248.3 L712 246.63 L712.35 244.65 L712.71 245.77 L713.07 244.97 L713.43 244.33 L713.79 246.24 L714.14 246.61 L714.5 247.7 L714.86 248.43 L715.17 246.64 L715.48 247.18 L715.8 246.9 L716.11 244.51 L716.42 244.65 M717.98 241.96 L718.34 241.4 L718.7 240.49 L719.05 239.97 L719.41 238.18 L719.77 236.54 L720.14 233.32 L720.51 230.15 L720.88 228.01 L721.19 229 L721.51 230.75 L721.82 229.44 L722.14 234.45 L722.45 235.54 L722.79 234.58 L723.12 236.33 L723.45 237.26 L723.79 237.95 M725.35 237.09 L725.66 236.2 L725.97 235.83 L726.29 234.75 L726.6 235.21 L726.91 234.58 L727.27 235.11 L727.63 234.28 L727.98 235.31 L728.34 235.54 L728.7 236.26 L729.07 235.51 L729.44 237.58 L729.81 238.83 L730.18 239.98 L730.56 240.6 L730.93 242.42 M732.05 231.93 L732.36 230.37 L732.67 229.45 L732.99 228.41 L733.3 225.08 L733.61 222.86 L733.95 222.94 L734.28 221.95 L734.62 220.11 L734.95 219.43 L735.26 221.56 L735.57 223.82 L735.89 223.71 L736.2 225.43 L736.51 228.36 L736.82 227.25 L737.13 228.9 L737.45 229.56 L737.76 229.59 L738.07 229.22 L738.44 226.74 L738.82 223.14 L739.19 220.09 M740.98 233.79 L741.29 231.4 L741.6 231.79 L741.92 227.96 L742.23 227.97 L742.54 226.8 L742.88 226.82 L743.21 224.57 L743.54 224.77 L743.88 222.93 L744.19 224.77 L744.5 226.34 L744.82 225.09 L745.13 226.52 L745.44 225.96 L745.81 229.53 L746.19 231.6 L746.56 232.4 L746.92 229.79 L747.27 229.61 L747.63 228.72 L747.98 227.1 L748.34 225.29 L748.65 222.24 L748.97 222.61 L749.28 223.83 L749.6 220.78 L749.91 222.23 L750.28 224.02 L750.65 224.13 L751.02 225.57 L751.38 223.81 L751.74 222.57 L752.09 223.13 L752.45 222.6 L752.81 222.29 L753.12 224.3 L753.43 224.88 L753.75 226.52 L754.06 228.06 L754.37 229.02 L754.68 231.8 L754.99 231.65 L755.31 232.44 L755.62 233.3 L755.93 234.04 L756.26 237.21 L756.6 237.53 L756.93 237.82 L757.27 239.68 L757.58 239.84 L757.9 239.34 L758.21 240.49 L758.53 238.25 L758.84 239.51 L759.23 239.51 L759.61 238.63 L760 240.04 L760.36 240.14 L760.72 240.9 L761.07 240.27 L761.43 241.17 L761.79 239.62 L762.1 240.81 L762.41 243.17 L762.73 244.07 L763.04 243.79 L763.35 243.93 L763.66 246.34 L763.97 244.37 L764.29 246.43 L764.6 248.64 L764.91 249.52 L765.27 248.67 L765.63 248.57 L765.98 252.25 L766.34 251.75 L766.7 251.47 L767.06 254.12 L767.41 256.66 L767.77 255.31 L768.12 260.42 L768.48 261.88 L768.79 260.01 L769.11 263.24 L769.42 261.62 L769.74 264.92 L770.05 264.92 L770.36 266.14 L770.67 263.12 L770.99 263.23 L771.3 263.72 L771.61 261.75 L771.95 260.02 L772.28 258.65 L772.62 257.24 L772.95 254.66 L773.26 257.41 L773.57 258.8 L773.89 259.71 L774.2 262.52 L774.51 262.04 L774.82 262.17 L775.13 259.16 L775.45 258.99 L775.76 255.23 L776.07 255.81 L776.43 254.58 L776.79 253.4 L777.14 252.4 L777.5 251.74 L777.86 250.51 L778.22 248.29 L778.58 248.84 L778.93 247.99 L779.29 247.12 L779.65 245.75 L779.96 248.81 L780.27 251.87 L780.59 253.17 L780.9 255.18 L781.21 259.08 L781.57 256.06 L781.93 253.33 L782.28 250.87 L782.64 246.85 L783 244.35 L783.31 246.14 L783.62 245.31 L783.94 246.37 L784.25 247.48 L784.56 248.15 L784.92 248.9 L785.27 251.38 L785.63 251.67 L785.98 253.82 L786.34 255.47 L786.65 254.21 L786.97 253.39 L787.28 250.79 L787.6 249.76 L787.91 249.49 L788.22 250.03 L788.53 250.5 L788.85 247.61 L789.16 248.53 L789.47 247.04 L789.83 246.7 L790.19 246.67 L790.54 247.09 L790.9 246.22 L791.26 246.64 L791.62 245.81 L791.97 248.61 L792.33 249.77 L792.68 250.11 L793.04 251.59 L793.35 251.1 L793.66 251.08 L793.98 252.14 L794.29 252.37 L794.6 256 L794.97 255.19 L795.35 259.35 L795.72 260.27 L796.09 261.86 L796.47 263.74 L796.84 263.86 L797.15 266.28 L797.46 266.68 L797.78 265.87 L798.09 268.67 L798.4 269.52 L798.76 268.76 L799.12 269.11 L799.47 266.64 L799.83 266.8 L800.19 266.34 L800.55 265.31 L800.9 267.65 L801.26 265.71 L801.61 266.29 L801.97 268.38 L802.28 266.71 L802.59 267.36 L802.91 265.76 L803.22 267.08 L803.53 265.77 L803.84 266.65 L804.16 264.52 L804.47 265.86 L804.79 264.77 L805.1 264.62 L805.44 264.22 L805.77 264.12 L806.11 262.53 L806.44 263.44 M807.33 265.6 L807.66 269.89 L808 270.97 L808.34 273.36 L808.67 276.1 L808.98 273.26 L809.29 273.69 L809.61 273.16 L809.92 272.09 L810.23 272.66 L810.54 272.02 L810.86 271.19 L811.17 270.82 L811.49 272.21 L811.8 270.67 L812.16 271.34 L812.51 270.77 L812.87 268.21 L813.22 268.49 L813.58 269.02 L813.95 267.47 L814.33 266 L814.7 264.16 L815.01 264.82 L815.32 264 L815.64 264.59 L815.95 265.92 L816.26 265.29 L816.62 265.73 L816.98 262.46 L817.33 263.58 L817.69 261.95 L818.05 259.44 L818.41 261.2 L818.76 259.7 L819.12 258.55 L819.47 256.67 L819.83 256.32 L820.14 257.65 L820.46 255.1 L820.77 252.28 L821.09 254.19 L821.4 253.43 L821.77 256.62 L822.14 258.62 L822.51 260.39 L822.82 258.44 L823.13 258.13 L823.45 253.88 L823.76 254.93 L824.07 250.67 L824.4 249.9 L824.74 251.31 L825.08 250.84 L825.41 249.11 L825.72 251.84 L826.04 250.63 L826.35 252.57 L826.67 255.53 L826.98 255.4 L827.35 256.69 L827.72 260.56 L828.09 263.16 L828.46 258.59 L828.84 253.26 L829.21 250.85 L829.55 245.96 L829.88 240.69 L829.88 240.97 L830.21 227.91 L830.55 216.06 L830.85 212.07 L831.14 209.6 L831.44 200.68 L831.81 206.06 L832.19 199.47 L832.56 207.33 L832.89 214.58 L833.23 226.78 L833.6 223.49 L833.97 216.22 L834.34 214.58 L834.71 217.43 L835.09 220.32 L835.46 219.67 L835.83 218.07 L836.21 214.81 L836.58 221.8 L836.95 218.84 L837.32 221.02 L837.69 220.83 L838 224.77 L838.32 221.32 L838.63 224.39 L838.95 222.62 L839.26 220.37 L839.63 223.57 L840 221.94 L840.37 225.29 L840.74 224.07 L841.12 222 L841.49 223.7 L841.8 224.51 L842.11 228.63 L842.43 220.65 L842.74 226.86 L843.05 227.51 L843.38 227.82 L843.72 228.94 L844.05 228.35 L844.39 227.07 L844.76 228.73 L845.14 233.17 L845.51 234.84 M847.07 240.74 L847.44 240.25 L847.82 243.16 L848.19 243.64 L848.56 245.31 L848.93 247.99 L849.3 249.4 L849.3 251.26 L849.66 249.93 L850.02 250.09 L850.37 249 L850.73 249.72 L851.09 249.55 L851.4 249.17 L851.71 247.39 L852.03 244.19 L852.34 243.16 L852.65 241.39 L853.02 240.65 L853.4 240.29 L853.77 237.29 L854.14 234.15 L854.51 234.48 L854.88 233.93 L855.25 237.19 L855.63 238.36 L856 240.27 L856.36 242.05 L856.72 240.15 L857.07 240.58 L857.43 243.55 L857.79 242.54 L858.1 242.2 L858.41 241.74 L858.73 242.87 L859.04 242.71 L859.35 245.64 L859.72 247.48 L860.1 250.19 L860.47 251.03 L860.84 252.77 L861.21 254.96 L861.58 259.57 L861.89 257.16 L862.2 259.8 L862.52 260.57 L862.83 261.99 L863.14 261.97 L863.48 263.89 L863.81 265.29 L864.14 265.54 L864.48 266.38 L864.79 267.29 L865.11 267.26 L865.42 268.61 L865.74 269.2 L866.05 270.33 L866.36 272.23 L866.67 273.1 L866.99 272.42 L867.3 274.25 L867.61 274.87 L867.95 277.24 L868.28 278.53 L868.62 280.7 L868.95 282 L869.32 278.74 L869.7 277.25 L870.07 274.66 L870.38 274.76 L870.69 275.22 L871.01 275.74 L871.32 275.76 L871.63 275.24 L872 275.58 L872.37 273.3 L872.74 270.76 L873.05 269.94 L873.37 271.51 L873.68 268.29 L874 271.05 L874.31 269.6 L874.68 273.39 L875.05 272.84 L875.42 275.7 L875.79 273.03 L876.17 271.39 L876.54 268.83 L876.88 269.74 L877.21 272.78 L877.54 272.5 L877.88 274.14 L878.19 274.43 L878.5 272.78 L878.82 272.2 L879.13 272.25 L879.44 270.93 L879.81 271.25 L880.19 273.39 L880.56 274.4 L880.87 274.8 L881.18 270.94 L881.5 271.46 L881.81 268.54 L882.12 267.59 L882.46 267.34 L882.79 267.59 L883.12 267.85 L883.46 268.36 L883.76 270.31 L884.05 276.17 L884.35 279.97 L884.72 280.54 L885.1 279.87 L885.47 282.11 L885.81 282.04 L886.14 283.29 L886.47 283.57 L886.81 285.25 L887.12 286.32 L887.43 287.01 L887.75 286.48 L888.06 288.23 L888.37 289.31 L888.68 287.83 L888.99 290.67 L889.31 288.81 L889.62 291.17 L889.93 291.88 L890.26 294.08 L890.6 294.39 L890.93 295.1 L891.27 296.21 L891.58 294.24 L891.9 294.5 L892.21 292.03 L892.53 290.04 L892.84 289.6 L893.15 289.1 L893.46 290.07 L893.78 290.72 L894.09 293.29 L894.4 293.79 L894.76 291.21 L895.12 288.82 L895.47 289.36 L895.83 288.06 L896.19 286.88 M897.97 287.19 L898.28 288.73 L898.59 289.27 L898.91 291.73 L899.22 292.99 L899.53 293.77 L899.84 292.54 L900.16 291.81 L900.47 292.19 L900.79 289.91 L901.1 290.09 L901.46 290 L901.81 289.87 L902.17 292.12 L902.52 292 L902.88 292.5 L903.24 292.36 L903.6 289.34 L903.95 289.73 L904.31 289.15 L904.67 288.75 L904.98 287.92 L905.29 290.43 L905.61 290.88 L905.92 292.8 L906.23 293.49 L906.54 293.63 L906.86 295.74 L907.17 294.47 L907.49 294.76 L907.8 295.5 L908.16 295.3 L908.51 297.38 L908.87 295.59 L909.22 298.91 L909.58 300.43 L909.89 299.75 L910.2 296.4 L910.52 297.36 L910.83 293.03 L911.14 292.28 L911.48 288.17 L911.81 288.05 L912.14 286.34 L912.48 287.81 L912.78 289.84 L913.08 290.95 L913.38 296.54 L913.71 302.05 L914.05 306.66 L914.35 311.47 L914.64 315.49 L914.94 319.63 L915.24 323.16 L915.53 330.67 L915.83 337.76 L916.13 334.24 L916.43 328.18 L916.73 323.82 L917.03 321.2 L917.32 319.37 L917.62 315.27 L917.96 315.94 L918.29 319.01 L918.62 320.47 L918.96 323.05 L919.26 320.38 L919.55 317.59 L919.85 317.07 L920.19 318.53 L920.52 317.72 L920.86 319.44 L921.19 321.14 L921.56 323.02 L921.94 325.75 L922.31 331.08 L922.68 328.54 L923.05 327.23 L923.42 324.01 L923.75 327.94 L924.09 326.73 L924.42 329.4 L924.76 332.18 L925.07 332.03 L925.39 329.38 L925.7 328.94 L926.02 329.03 L926.33 326.5 L926.7 330.61 L927.07 332.4 L927.44 333.38 L927.78 333.12 L928.11 332.21 L928.44 330.69 L928.78 329.76 L929.08 331 L929.37 329.63 L929.67 330.42 M930.57 326.09 L931.01 323.72 M932.35 317.68 L932.69 317.65 L933.02 314.99 L933.36 314.37 L933.69 312.68 L934.06 314.1 L934.44 317.03 L934.81 316.95 L935.18 315.65 L935.56 312.53 L935.93 310.36 L936.24 308.4 L936.55 308.68 L936.87 307.86 L937.18 306 L937.49 306.09 L937.86 309.1 L938.23 312.53 L938.6 317.04 L938.97 312.31 L939.35 308.49 L939.72 306.98 M940.84 303.23 L941.2 303.68 L941.55 302.84 L941.91 302.75 L942.26 302.56 L942.62 302.93 L942.93 300.33 L943.25 299.12 L943.56 296.74 L943.88 296.54 L944.19 295.88 L944.5 295.42 L944.81 292.11 L945.13 294.14 L945.44 294.29 L945.75 293.19 L946.09 292.01 L946.42 293.87 L946.75 295.48 L947.09 296.17 L947.4 293.77 L947.71 292.36 L948.03 292.63 L948.34 289.3 L948.65 290.36 L948.96 288.24 L949.27 287.59 L949.59 285.28 L949.9 285.03 L950.21 285.25 L950.55 282.54 L950.88 284.77 L951.21 280.92 L951.55 280.24 L951.86 282.23 L952.18 283.51 L952.49 284.62 L952.81 284.55 L953.12 285.59 L953.43 285.12 L953.74 284.38 L954.06 282.19 L954.37 284.81 L954.68 283.75 L955.04 284.34 L955.4 284.33 L955.75 285.76 L956.11 286.2 L956.47 286.81 L956.84 285.61 L957.21 280.93 L957.58 280.41 L957.95 280.75 L958.33 282.89 L958.7 285.95 L959.07 286.32 L959.44 289.78 L959.81 291.96 L960.18 289.2 L960.56 283.44 L960.93 278.74 L961.3 278.77 L961.68 276.16 L962.05 274.32 L962.36 276.2 L962.67 275.17 L962.99 276.29 L963.3 277.41 L963.61 278.31 L963.95 276.39 L964.28 276.61 L964.62 276.54 L964.95 273.14 L965.26 275.78 L965.57 273.01 L965.89 276.72 L966.2 275.87 L966.51 276.96 L966.88 278.78 L967.26 280.75 L967.63 282.43 L968 278.35 L968.37 274.98 L968.74 270.01 L969.11 267.98 L969.49 267.08 L969.86 266.18 L970.23 263.89 L970.61 264.63 L970.98 261.78 L971.35 259.82 L971.72 257.81 L972.09 255.86 L972.46 256.02 L972.84 253.69 L973.21 250.34 L973.58 250.53 L973.96 247.23 L974.33 247.25 L974.7 244.38 L975.07 243.36 L975.44 242.66 L975.75 243.27 L976.06 244.44 L976.38 243.52 L976.69 246.27 L977 246.74 L977.34 245.01 L977.67 244.87 L978 243.24 L978.34 243.22 L978.65 242.88 L978.97 244.77 L979.28 245.53 L979.6 247.19 L979.91 247.52 L980.22 246.51 L980.53 244.6 L980.85 243.82 L981.16 242.83 L981.47 242.42 L981.81 240.84 L982.14 243.46 L982.47 241.72 L982.81 242.9 L983.12 244.49 L983.43 245.14 L983.75 248.13 L984.06 247.73 L984.37 250.29 L984.68 249.5 L984.99 247.61 L985.31 247.94 L985.62 248.27 L985.93 246.41 L986.29 246.55 L986.65 245.77 L987 246.08 L987.36 245.5 L987.72 245.65 L988.09 247.94 L988.47 249.76 L988.84 250.17 L989.17 253.01 L989.51 255.63" stroke="#aa4643" stroke-width="2"/></g>
<g font-family="Liberation Sans, Arial, sans-serif" font-size="11" fill="#3a3a3a">
<text x="65" y="62" text-anchor="end">12.5</text>
<text x="65" y="115" text-anchor="end">10.0</text>
<text x="65" y="168" text-anchor="end">7.5</text>
<text x="65" y="221" text-anchor="end">5.0</text>
<text x="65" y="274" text-anchor="end">2.5</text>
<text x="65" y="327" text-anchor="end">0.0</text>
<text x="65" y="380" text-anchor="end">-2.5</text>
<text x="1005" y="62" text-anchor="start">32</text>
<text x="1005" y="115" text-anchor="start">24</text>
<text x="1005" y="168" text-anchor="start">16</text>
<text x="1005" y="221" text-anchor="start">8</text>
<text x="1005" y="274" text-anchor="start">0</text>
<text x="1005" y="327" text-anchor="start">-8</text>
<text x="1005" y="380" text-anchor="start">-16</text>
<text x="138.3" y="394.6" text-anchor="middle">2012-01</text>
<text x="222.7" y="394.6" text-anchor="middle">2013-01</text>
<text x="307.2" y="394.6" text-anchor="middle">2014-01</text>
<text x="391.6" y="394.6" text-anchor="middle">2015-01</text>
<text x="476.1" y="394.6" text-anchor="middle">2016-01</text>
<text x="560.5" y="394.6" text-anchor="middle">2017-01</text>
<text x="644.9" y="394.6" text-anchor="middle">2018-01</text>
<text x="729.4" y="394.6" text-anchor="middle">2019-01</text>
<text x="813.8" y="394.6" text-anchor="middle">2020-01</text>
<text x="898.3" y="394.6" text-anchor="middle">2021-01</text>
<text x="982.7" y="394.6" text-anchor="middle">2022-01</text>
</g>
<g font-family="Liberation Sans, Arial, sans-serif" font-size="12" fill="#3a3a3a">
<text transform="translate(24,216) rotate(-90)" text-anchor="middle">Percent Change from Year Ago</text>
<text transform="translate(1041,215.8) rotate(90)" text-anchor="middle">Percent Change from Year Ago</text>
<text x="144.5" y="24" font-weight="bold">Bank Credit, All Commercial Banks (left)</text>
<text x="144.5" y="38" font-weight="bold">Nominal Broad U.S. Dollar Index (right)</text>
</g>
<rect x="123" y="19" width="16" height="2" fill="#4572a7"/>
<rect x="123" y="33" width="16" height="2" fill="#aa4643"/>
<text x="8.4" y="30.4" font-family="Liberation Sans, Arial, sans-serif" font-weight="bold" font-size="27.5" fill="#231f20" stroke="#231f20" stroke-width="0.9" textLength="79.6" lengthAdjust="spacingAndGlyphs">FRED</text>
<text x="85.3" y="31.3" font-family="Liberation Sans, Arial, sans-serif" font-size="3.5" fill="#555555">®</text>
<rect x="92.1" y="10.8" width="21.8" height="19.7" rx="1.8" fill="url(#ig)"/>
<path d="M92.1 24.3 L96 20.3 L99.7 23.9 L104.7 16.7 L108 18.3 L113.9 11.2 L113.9 28.7 Q113.9 30.5 112.1 30.5 L93.9 30.5 Q92.1 30.5 92.1 28.7 Z" fill="#d6d6d6"/>
<path d="M92.1 24.3 L96 20.3 L99.7 23.9 L104.7 16.7 L108 18.3 L113 12" fill="none" stroke="#4d7fa6" stroke-width="1.3"/>
<path d="M92.1 27.5 L96.7 25.3 L100.3 27.5 L105 23.9 L108.7 25.9 L113.7 17.9" fill="none" stroke="#6c9f45" stroke-width="1.3"/>
<g font-family="Liberation Sans, Arial, sans-serif" font-size="14.06">
<text x="33.1" y="430.8" fill="#4572a7">Shaded areas indicate U.S. recessions.</text>
<text x="330" y="430.8" fill="#666666">Source: Board of Governors of the Federal Reserve System (US)</text>
<text x="1024.1" y="430.8" fill="#666666" text-anchor="end">fred.stlouisfed.org</text>
</g>
</svg>
</body></html>
